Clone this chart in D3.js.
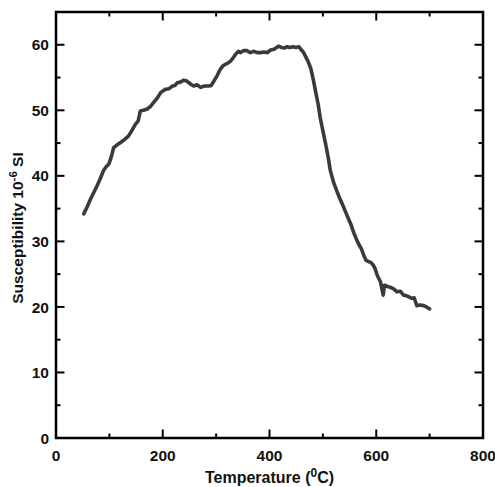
<!DOCTYPE html>
<html>
<head>
<meta charset="utf-8">
<script src="https://cdn.jsdelivr.net/npm/d3@7"></script>
<style>
  html, body { margin: 0; padding: 0; background: #fff; }
  svg { display: block; }
  text { font-family: "Liberation Sans", Arial, sans-serif; font-weight: bold; fill: #111; }
</style>
</head>
<body>
<svg id="chart" width="495" height="487"></svg>
<script>
// ---- data ----
const temperature = [52, 58, 65, 71, 77, 83, 89, 94, 99, 104, 108, 114, 121, 128, 136, 142, 149, 154, 158, 164, 171, 177, 183, 190, 196, 205, 212, 218, 223, 227, 233, 239, 244, 249, 254, 258, 264, 271, 278, 286, 291, 296, 302, 308, 313, 317, 322, 327, 332, 336, 342, 346, 351, 358, 364, 370, 377, 383, 390, 396, 402, 408, 412, 417, 422, 428, 433, 438, 444, 449, 455, 460, 464, 467, 472, 477, 482, 486, 491, 495, 500, 505, 510, 514, 520, 527, 533, 539, 545, 552, 558, 563, 567, 572, 576, 581, 586, 590, 595, 598, 602, 605, 608, 611, 613, 614, 615, 617, 621, 626, 632, 639, 645, 651, 657, 662, 667, 671, 676, 682, 689, 694, 700];
const susceptibility = [34.2, 35.2, 36.5, 37.5, 38.5, 39.6, 40.8, 41.4, 41.8, 43.0, 44.3, 44.7, 45.1, 45.5, 46.1, 46.9, 47.9, 48.4, 49.9, 50.0, 50.2, 50.6, 51.2, 51.9, 52.7, 53.2, 53.3, 53.7, 53.8, 54.2, 54.3, 54.6, 54.5, 54.2, 53.9, 53.7, 53.9, 53.5, 53.7, 53.7, 53.8, 54.5, 55.3, 56.3, 56.8, 57.0, 57.2, 57.5, 58.0, 58.5, 59.0, 58.8, 59.1, 59.1, 58.8, 59.0, 58.8, 58.8, 58.9, 58.8, 59.2, 59.3, 59.5, 59.8, 59.6, 59.5, 59.7, 59.6, 59.7, 59.6, 59.7, 59.2, 58.8, 58.3, 57.5, 56.5, 54.7, 53.0, 51.0, 48.9, 46.9, 44.9, 42.8, 40.8, 39.0, 37.5, 36.3, 35.2, 34.0, 32.7, 31.3, 30.3, 29.6, 28.9, 28.0, 27.1, 26.9, 26.8, 26.3, 25.8, 24.8, 24.3, 23.8, 22.6, 21.8, 22.4, 23.3, 23.3, 23.1, 23.0, 22.8, 22.3, 22.4, 21.8, 21.7, 21.5, 21.3, 21.4, 20.2, 20.3, 20.2, 20.0, 19.7];
const xTicksMajor = [0, 200, 400, 600, 800];
const xTicksMinor = [100, 300, 500, 700];
const yTicksMajor = [0, 10, 20, 30, 40, 50, 60];
const yTicksMinor = [5, 15, 25, 35, 45, 55];
const xTitle = "Temperature (";
const xTitleSup = "0";
const xTitleEnd = "C)";
const yTitle = "Susceptibility 10";
const yTitleSup = "-6";
const yTitleEnd = " SI";

// ---- layout ----
const svg = d3.select("#chart");
const L = 56, R = 483, T = 12, B = 438;
const x = d3.scaleLinear().domain([0, 800]).range([L, R]);
const y = d3.scaleLinear().domain([0, 65]).range([B, T]);
const majorLen = 8.5, minorLen = 4.5;
const ticksG = svg.append("g").attr("stroke", "#000").attr("stroke-width", 2);

function xTicks(vals, len) {
  vals.forEach(v => {
    ticksG.append("line").attr("x1", x(v)).attr("x2", x(v)).attr("y1", B).attr("y2", B - len);
    ticksG.append("line").attr("x1", x(v)).attr("x2", x(v)).attr("y1", T).attr("y2", T + len);
  });
}
function yTicks(vals, len) {
  vals.forEach(v => {
    ticksG.append("line").attr("y1", y(v)).attr("y2", y(v)).attr("x1", L).attr("x2", L + len);
    ticksG.append("line").attr("y1", y(v)).attr("y2", y(v)).attr("x1", R).attr("x2", R - len);
  });
}
xTicks(xTicksMajor, majorLen);
xTicks(xTicksMinor, minorLen);
yTicks(yTicksMajor, majorLen);
yTicks(yTicksMinor, minorLen);

// tick labels
svg.append("g").selectAll("text").data(xTicksMajor).join("text")
  .attr("x", d => x(d)).attr("y", 461).attr("text-anchor", "middle")
  .attr("font-size", 15.5).text(d => d3.format("d")(d));
svg.append("g").selectAll("text").data(yTicksMajor).join("text")
  .attr("x", 49).attr("y", d => y(d)).attr("dy", "0.36em").attr("text-anchor", "end")
  .attr("font-size", 15.5).text(d => d3.format("d")(d));

// frame
svg.append("rect").attr("x", L).attr("y", T).attr("width", R - L).attr("height", B - T)
  .attr("fill", "none").attr("stroke", "#000").attr("stroke-width", 2.5);

// data line
const data = temperature.map((t, i) => [t, susceptibility[i]]);
svg.append("path").datum(data)
  .attr("fill", "none").attr("stroke", "#3a3a3a").attr("stroke-width", 3.6)
  .attr("stroke-linejoin", "round").attr("stroke-linecap", "round")
  .attr("d", d3.line().x(d => x(d[0])).y(d => y(d[1])));

// titles
const xt = svg.append("text").attr("x", (L + R) / 2).attr("y", 483)
  .attr("text-anchor", "middle").attr("font-size", 16);
xt.append("tspan").text(xTitle);
xt.append("tspan").attr("font-size", 12).attr("dy", -6).text(xTitleSup);
xt.append("tspan").attr("dy", 6).text(xTitleEnd);

const yt = svg.append("text").attr("transform", `translate(23,228) rotate(-90)`)
  .attr("text-anchor", "middle").attr("font-size", 15.5);
yt.append("tspan").text(yTitle);
yt.append("tspan").attr("font-size", 11.5).attr("dy", -6).text(yTitleSup);
yt.append("tspan").attr("dy", 6).text(yTitleEnd);
</script>
</body>
</html>
